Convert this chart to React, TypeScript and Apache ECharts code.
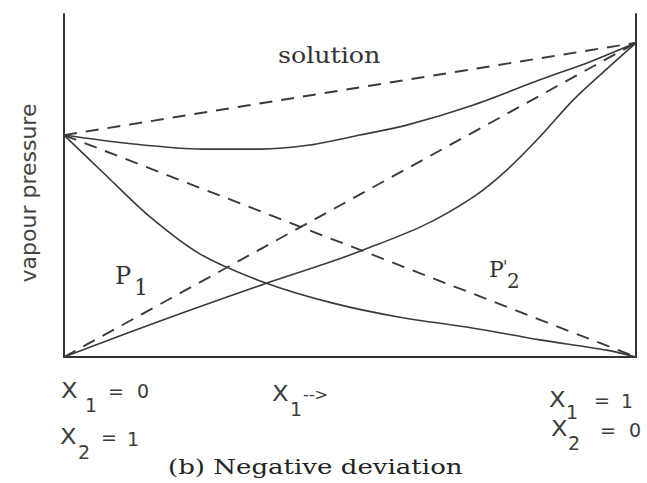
import React, { useEffect, useRef } from "react";
import * as echarts from "echarts";

// Pure-component vapour pressures (y units 0..100)
const pureLeft = 64.7;
const pureRight = 91.6;

// Actual total vapour pressure (solid curve)
const totalX = [0, 0.11, 0.243, 0.343, 0.43, 0.517, 0.599, 0.716, 0.832, 0.92, 1];
const totalY = [64.7, 62.3, 60.6, 60.6, 61.8, 64.7, 67.6, 73.5, 80.8, 86.1, 91.6];

// Partial pressure falling from left to right (solid)
const fallX = [0, 0.07, 0.15, 0.238, 0.354, 0.47, 0.587, 0.716, 0.832, 0.949, 1];
const fallY = [64.7, 53.5, 40.9, 30.0, 21.5, 15.7, 11.6, 8.4, 5.0, 2.0, 0];

// Partial pressure rising from left to right (solid)
const riseX = [0, 0.11, 0.226, 0.354, 0.459, 0.523, 0.628, 0.716, 0.774, 0.832, 0.89, 0.949, 1];
const riseY = [0, 6.9, 14.0, 21.5, 27.3, 31.2, 38.3, 46.7, 54.5, 64.2, 74.9, 84.0, 91.6];

// Ideal (Raoult) straight lines, dashed
const idealX = [0, 1];
const idealTotalY = [pureLeft, pureRight];
const idealRiseY = [0, pureRight];
const idealFallY = [pureLeft, 0];

const zip = (xs: number[], ys: number[]) => xs.map((x, i) => [x, ys[i]]);

const INK = "#3a3a3a";
const SERIF = "'DejaVu Serif', serif";
const SANS = "'DejaVu Sans', sans-serif";
const LABEL = "#3c3c3c";

function txt(
  text: string,
  x: number,
  y: number,
  size: number,
  family: string,
  extra: any = {}
) {
  const { fill, align, ...rest } = extra;
  return {
    type: "text",
    x,
    y,
    ...rest,
    style: {
      text,
      fontSize: size,
      fontFamily: family,
      fill: fill || "#333",
      align: align || "left",
      textAlign: align || "left",
      verticalAlign: "middle",
      textVerticalAlign: "middle",
    },
  };
}

const bigX = (x: number, y: number) => txt("X", x, y, 21, SANS, { fill: LABEL, scaleX: 1.15 });
const lab = (t: string, x: number, y: number) => txt(t, x, y, 19, SANS, { fill: LABEL });

export default function App() {
  const ref = useRef<HTMLDivElement>(null);
  useEffect(() => {
    if (!ref.current) return;
    const chart = echarts.init(ref.current, undefined, { renderer: "svg" });
    const solid = { color: INK, width: 1.6, type: "solid" as const };
    const dashed = { color: INK, width: 1.9, type: [13, 9] as any };
    const axisBase = {
      type: "value" as const,
      axisTick: { show: false },
      axisLabel: { show: false },
      splitLine: { show: false },
      axisLine: { show: true, onZero: false, lineStyle: { color: "#333", width: 2 } },
    };
    const curve = (data: number[][]) => ({
      type: "line",
      data,
      smooth: 0.3,
      showSymbol: false,
      lineStyle: solid,
    });
    const straight = (data: number[][]) => ({
      type: "line",
      data,
      showSymbol: false,
      lineStyle: dashed,
    });
    chart.setOption({
      animation: false,
      backgroundColor: "#ffffff",
      grid: { left: 64, top: 14, right: 11, bottom: 126 },
      xAxis: { ...axisBase, min: 0, max: 1 },
      yAxis: [
        { ...axisBase, min: 0, max: 100, position: "left" },
        { ...axisBase, min: 0, max: 100, position: "right" },
      ],
      series: [
        curve(zip(totalX, totalY)),
        curve(zip(fallX, fallY)),
        curve(zip(riseX, riseY)),
        straight(zip(idealX, idealTotalY)),
        straight(zip(idealX, idealRiseY)),
        straight(zip(idealX, idealFallY)),
      ],
      graphic: [
        txt("solution", 278, 55, 23, SERIF, { scaleX: 1.1 }),
        txt("vapour pressure", 28, 193, 22, SANS, { rotation: Math.PI / 2, align: "center", fill: "#444" }),
        txt("P", 115, 276, 24, SERIF),
        txt("1", 134, 287, 22, SERIF),
        txt("P", 489, 269, 22, SERIF),
        txt("'", 503, 266, 16, SERIF),
        txt("2", 507, 281, 20, SERIF),
        // bottom labels: X1 = 0
        bigX(61, 391),
        lab("1", 85, 405),
        lab("=", 108, 391),
        lab("0", 137, 391),
        // X1-->
        bigX(272, 394),
        lab("1", 290, 409),
        txt("-->", 303, 394, 16, SANS, { fill: LABEL }),
        // X2 = 1
        bigX(60, 437),
        lab("2", 78, 452),
        lab("=", 101, 437),
        lab("1", 127, 439),
        // X1 = 1
        bigX(549, 400),
        lab("1", 566, 412),
        lab("=", 594, 400),
        lab("1", 621, 401),
        // X2 = 0
        bigX(551, 429),
        lab("2", 568, 443),
        lab("=", 600, 430),
        lab("0", 629, 430),
        txt("(b) Negative deviation", 168, 467, 21, SERIF, { scaleX: 1.24, fill: "#222" }),
      ],
    });
    return () => chart.dispose();
  }, []);
  return (
    <div
      ref={ref}
      style={{ position: "absolute", left: 0, top: 0, width: 647, height: 483, background: "#fff" }}
    />
  );
}
